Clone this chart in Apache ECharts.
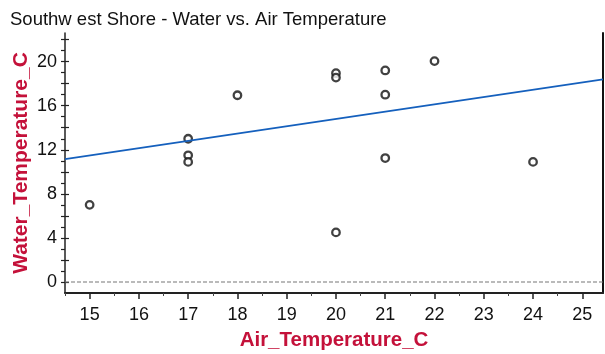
<!DOCTYPE html>
<html>
<head>
<meta charset="utf-8">
<script src="https://cdn.jsdelivr.net/npm/echarts@6/dist/echarts.min.js"></script>
<style>html,body{margin:0;padding:0;background:#fff}#c{width:605px;height:354px}</style>
</head>
<body>
<div id="c"></div>
<script>
const titleText = 'Southw est Shore - Water vs. Air Temperature';
const xName = 'Air_Temperature_C';
const yName = 'Water_Temperature_C';
const airTemp =   [15, 17, 17, 17, 18, 20, 20, 20, 21, 21, 21, 22, 24];
const waterTemp = [7.0, 13.0, 11.5, 10.9, 16.95, 18.95, 18.55, 4.5, 19.2, 17.0, 11.25, 20.05, 10.9];
const trendX = [14.5, 25.42];
const trendY = [11.15, 18.4];
const zeroLineX = [14.5, 25.42];
const zeroLineY = [0, 0];
const xTickLabels = [15, 16, 17, 18, 19, 20, 21, 22, 23, 24, 25];
const xMinorTicks = [14.5, 15.5, 16.5, 17.5, 18.5, 19.5, 20.5, 21.5, 22.5, 23.5, 24.5];
const yTickLabels = [0, 4, 8, 12, 16, 20];
const yMinorTicks = [0,1,2,3,4,5,6,7,8,9,10,11,12,13,14,15,16,17,18,19,20,21,22];
const yCrossTicks = [0,2,4,6,8,10,12,14,16,18,20,22];

const X_MIN = 14.5, X_MAX = 25.42, Y_MIN = -1, Y_MAX = 22.6;
const red = '#c4113a';
const font = 'Liberation Sans, Arial, sans-serif';

const chart = echarts.init(document.getElementById('c'));
chart.setOption({
  animation: false,
  backgroundColor: '#fff',
  title: {
    text: titleText, left: 5, top: 5,
    textStyle: {fontFamily: font, fontSize: 18.5, fontWeight: 'normal', color: '#111'}
  },
  grid: {left: 65, right: 2, top: 33, bottom: 61, outerBoundsMode: 'none', containLabel: false},
  xAxis: [
    {
      type: 'value', min: X_MIN, max: X_MAX, position: 'bottom',
      name: xName, nameLocation: 'middle', nameGap: 37, nameMoveOverlap: false,
      nameTextStyle: {color: red, fontFamily: font, fontSize: 20.5, fontWeight: 'bold'},
      axisLine: {show: true, onZero: false, lineStyle: {color: '#222', width: 2}},
      axisTick: {show: true, length: 6, customValues: xTickLabels, lineStyle: {color: '#222', width: 1.5}},
      axisLabel: {customValues: xTickLabels, margin: 13, color: '#111', fontFamily: font, fontSize: 18},
      splitLine: {show: false}
    },
    {
      type: 'value', min: X_MIN, max: X_MAX, position: 'bottom',
      axisLine: {show: false, onZero: false},
      axisTick: {show: true, length: 3, customValues: xMinorTicks, lineStyle: {color: '#444', width: 1}},
      axisLabel: {show: false},
      splitLine: {show: false}
    }
  ],
  yAxis: [
    {
      type: 'value', min: Y_MIN, max: Y_MAX, position: 'left',
      name: yName, nameLocation: 'middle', nameGap: 33, nameMoveOverlap: false,
      nameTextStyle: {color: red, fontFamily: font, fontSize: 21, fontWeight: 'bold'},
      axisLine: {show: true, onZero: false, lineStyle: {color: '#222', width: 1.5}},
      axisTick: {show: true, length: 4, customValues: yMinorTicks, lineStyle: {color: '#222', width: 1.2}},
      axisLabel: {customValues: yTickLabels, margin: 8, color: '#111', fontFamily: font, fontSize: 18},
      splitLine: {show: false}
    },
    {
      type: 'value', min: Y_MIN, max: Y_MAX, position: 'left',
      axisLine: {show: false, onZero: false},
      axisTick: {show: true, inside: true, length: 4, customValues: yCrossTicks, lineStyle: {color: '#222', width: 1.2}},
      axisLabel: {show: false},
      splitLine: {show: false}
    },
    {
      type: 'value', min: Y_MIN, max: Y_MAX, position: 'right',
      axisLine: {show: true, onZero: false, lineStyle: {color: '#111', width: 2}},
      axisTick: {show: false},
      axisLabel: {show: false},
      splitLine: {show: false}
    }
  ],
  series: [
    {
      type: 'line', xAxisIndex: 0, yAxisIndex: 0,
      data: zeroLineX.map((x, i) => [x, zeroLineY[i]]),
      symbol: 'none', silent: true,
      lineStyle: {color: '#777', type: [4, 2], width: 1.2}
    },
    {
      type: 'line', xAxisIndex: 0, yAxisIndex: 0,
      data: trendX.map((x, i) => [x, trendY[i]]),
      symbol: 'none', silent: true,
      lineStyle: {color: '#1560bd', width: 1.8}
    },
    {
      type: 'scatter', xAxisIndex: 0, yAxisIndex: 0,
      data: airTemp.map((x, i) => [x, waterTemp[i]]),
      symbol: 'circle', symbolSize: 7.5,
      itemStyle: {color: '#fff', borderColor: '#111', borderWidth: 2.3}
    }
  ]
});
</script>
</body>
</html>
